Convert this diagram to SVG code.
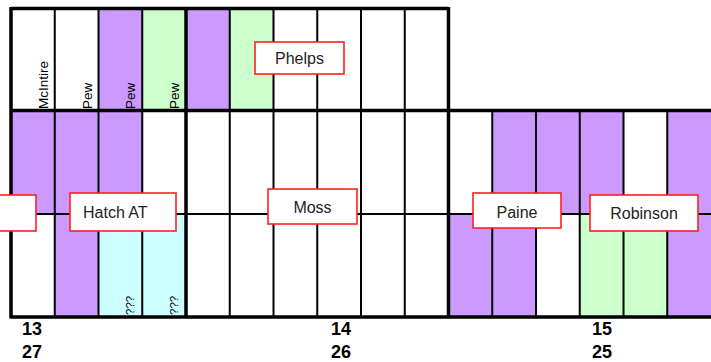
<svg xmlns="http://www.w3.org/2000/svg" width="711" height="362" viewBox="0 0 711 362">
<style>
.p{fill:#cc99ff}
.g{fill:#ccffcc}
.c{fill:#ccffff}
.thin{stroke:#000;stroke-width:2;fill:none}
.thick{stroke:#000;stroke-width:3.5;fill:none}
.box{fill:#fff;stroke:#ff2020;stroke-width:1.6}
.lbl{font-family:"Liberation Sans",Arial,sans-serif;font-size:16px;fill:#222}
.rot{font-family:"Liberation Sans",Arial,sans-serif;font-size:13.5px;fill:#000}
.q{font-family:"Liberation Sans",Arial,sans-serif;font-size:11.5px;fill:#000}
.num{font-family:"Liberation Sans",Arial,sans-serif;font-size:18px;font-weight:bold;fill:#000}
</style>
<rect width="711" height="362" fill="#fff"/>
<g id="fills">
<rect class="p" x="98.5" y="8" width="43.75" height="102"/>
<rect class="g" x="142.25" y="8" width="43.75" height="102"/>
<rect class="p" x="186" y="8" width="43.75" height="102"/>
<rect class="g" x="229.75" y="8" width="43.75" height="102"/>
<rect class="p" x="11" y="110" width="131.25" height="104"/>
<rect class="p" x="492.25" y="110" width="131.25" height="104"/>
<rect class="p" x="667.25" y="110" width="43.75" height="104"/>
<rect class="p" x="54.75" y="214" width="43.75" height="103"/>
<rect class="c" x="98.5" y="214" width="87.5" height="103"/>
<rect class="p" x="448.5" y="214" width="87.5" height="103"/>
<rect class="g" x="579.75" y="214" width="87.5" height="103"/>
<rect class="p" x="667.25" y="214" width="43.75" height="103"/>
</g>
<g id="grid">
<path class="thin" d="M54.75 8V317M98.5 8V317M142.25 8V317M229.75 8V317M273.5 8V317M317.25 8V317M361 8V317M404.75 8V317M492.25 110V317M536 110V317M579.75 110V317M623.5 110V317M667.25 110V317M11 214H711"/>
<path class="thick" d="M11 8.5H448.5M11 110.5H711M11 317H711M11 7V318.5M186 7V318.5M448.5 7V318.5"/>
</g>
<g id="pews">
<text class="rot" transform="translate(48,109) rotate(-90)">McIntire</text>
<text class="rot" transform="translate(91.5,109) rotate(-90)">Pew</text>
<text class="rot" transform="translate(135,109) rotate(-90)">Pew</text>
<text class="rot" transform="translate(179,109) rotate(-90)">Pew</text>
<text class="q" transform="translate(134,315) rotate(-90)">???</text>
<text class="q" transform="translate(178,315) rotate(-90)">???</text>
</g>
<g id="label-left"><rect class="box" x="-5" y="195" width="41" height="36"/></g>
<g id="label-hatch"><rect class="box" x="70" y="193" width="106" height="38"/><text class="lbl" x="83" y="217.5">Hatch AT</text></g>
<g id="label-phelps"><rect class="box" x="255" y="42" width="89" height="32"/><text class="lbl" x="299.5" y="64" text-anchor="middle">Phelps</text></g>
<g id="label-moss"><rect class="box" x="268" y="189" width="89" height="35"/><text class="lbl" x="312.5" y="213" text-anchor="middle">Moss</text></g>
<g id="label-paine"><rect class="box" x="473" y="193" width="88" height="35"/><text class="lbl" x="517" y="217.5" text-anchor="middle">Paine</text></g>
<g id="label-robinson"><rect class="box" x="590" y="195" width="108" height="36"/><text class="lbl" x="644" y="219" text-anchor="middle">Robinson</text></g>
<g id="numbers">
<text class="num" x="22" y="335">13</text>
<text class="num" x="22" y="357.5">27</text>
<text class="num" x="331" y="335">14</text>
<text class="num" x="331" y="357.5">26</text>
<text class="num" x="592" y="335">15</text>
<text class="num" x="592" y="357.5">25</text>
</g>
</svg>
